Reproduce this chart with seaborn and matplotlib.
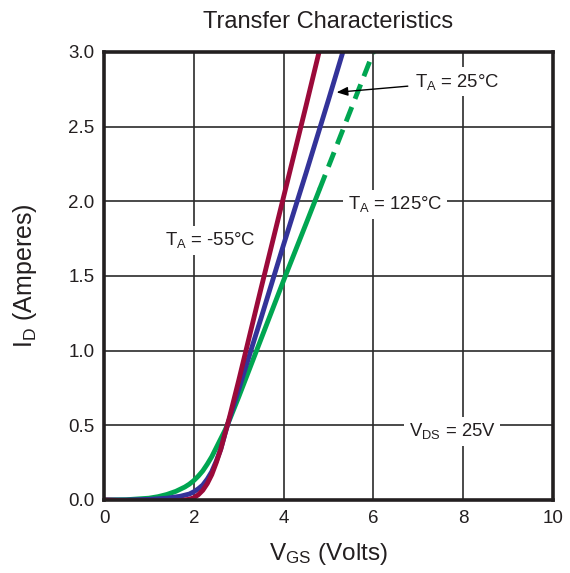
import matplotlib
matplotlib.use("Agg")
import matplotlib.pyplot as plt
import seaborn as sns
import pandas as pd

# ---- data ----
v_m55 = [0, 0.5, 1.0, 1.4, 1.7, 1.9, 2.0, 2.1, 2.2, 2.3, 2.4, 2.5, 2.6, 2.7, 2.8, 3.0, 3.5, 4.0, 4.5, 4.79]
i_m55 = [0, -0.005, -0.008, -0.008, -0.004, 0.005, 0.015, 0.035, 0.065, 0.11, 0.17, 0.25, 0.34, 0.45, 0.56, 0.8, 1.42, 2.03, 2.64, 3.0]

v_25 = [0, 0.5, 1.0, 1.4, 1.7, 1.9, 2.0, 2.1, 2.2, 2.3, 2.4, 2.5, 2.6, 2.7, 2.8, 3.0, 3.5, 4.0, 4.5, 5.0, 5.32]
i_25 = [0, 0, 0.004, 0.012, 0.025, 0.04, 0.055, 0.075, 0.1, 0.14, 0.19, 0.26, 0.34, 0.45, 0.55, 0.74, 1.22, 1.71, 2.19, 2.68, 3.0]

v_125 = [0, 0.5, 1.0, 1.2, 1.4, 1.6, 1.8, 1.9, 2.0, 2.1, 2.2, 2.3, 2.4, 2.5, 2.6, 2.7, 2.8, 3.0, 3.5, 4.0, 4.5, 4.8]
i_125 = [0, 0.002, 0.012, 0.022, 0.037, 0.058, 0.087, 0.106, 0.13, 0.16, 0.195, 0.24, 0.29, 0.35, 0.41, 0.47, 0.54, 0.69, 1.08, 1.47, 1.85, 2.08]
v_125_ext = [4.8, 6.0]
i_125_ext = [2.08, 3.0]

x_ticks = [0, 2, 4, 6, 8, 10]
y_ticks = [0.0, 0.5, 1.0, 1.5, 2.0, 2.5, 3.0]

RED = "#9B0A3A"
BLUE = "#333399"
GREEN = "#00A651"
TXT = "#231F20"

sns.set_theme(style="white")
plt.rcParams["font.family"] = ["Liberation Sans", "DejaVu Sans"]
plt.rcParams["mathtext.default"] = "regular"
plt.rcParams["text.color"] = TXT

fig = plt.figure(figsize=(5.70, 5.73), dpi=100)
ax = fig.add_axes([104 / 570, 1 - 500 / 573, 449 / 570, 448 / 573])

df_m55 = pd.DataFrame({"V": v_m55, "I": i_m55})
df_25 = pd.DataFrame({"V": v_25, "I": i_25})
df_125 = pd.DataFrame({"V": v_125, "I": i_125})
df_125e = pd.DataFrame({"V": v_125_ext, "I": i_125_ext})

lw = 3.5
sns.lineplot(data=df_125, x="V", y="I", ax=ax, color=GREEN, lw=lw, sort=False,
             solid_capstyle="round", solid_joinstyle="round", zorder=3)
sns.lineplot(data=df_125e, x="V", y="I", ax=ax, color=GREEN, lw=lw, sort=False,
             zorder=3).lines[-1].set_dashes([3.2, 1.8])
sns.lineplot(data=df_25, x="V", y="I", ax=ax, color=BLUE, lw=lw, sort=False,
             solid_capstyle="round", solid_joinstyle="round", zorder=4)
sns.lineplot(data=df_m55, x="V", y="I", ax=ax, color=RED, lw=lw, sort=False,
             solid_capstyle="round", solid_joinstyle="round", zorder=5)

ax.set_xlim(0, 10)
ax.set_ylim(0, 3.0)
ax.set_xticks(x_ticks)
ax.set_yticks(y_ticks)
ax.set_xticklabels([str(t) for t in x_ticks])
ax.set_yticklabels([f"{t:.1f}" for t in y_ticks])
ax.grid(True, color="#2b2b2b", lw=1.2, zorder=0)
ax.set_axisbelow(True)
for s in ax.spines.values():
    s.set_visible(True)
    s.set_color("#231F20")
    s.set_linewidth(2.6)
    s.set_zorder(7)
ax.tick_params(length=0, labelsize=13.5, colors=TXT, pad=7)

ax.set_xlabel("V$_{GS}$ (Volts)", fontsize=17.5, color=TXT, labelpad=10)
ax.set_ylabel("I$_{D}$ (Amperes)", fontsize=18, color=TXT, labelpad=21)
ax.set_title("Transfer Characteristics", fontsize=17, color=TXT, pad=17)

box = dict(boxstyle="square,pad=0.25", fc="white", ec="none")
fs = 13.3
ax.text(2.36, 1.74, "T$_{A}$ = -55°C", fontsize=fs, ha="center", va="center",
        bbox=box, zorder=6)
ax.text(6.48, 1.98, "T$_{A}$ = 125°C", fontsize=fs, ha="center", va="center",
        bbox=box, zorder=6)
ax.text(7.75, 0.46, "V$_{DS}$ = 25V", fontsize=fs, ha="center", va="center",
        bbox=box, zorder=6)
ax.annotate("T$_{A}$ = 25°C", xy=(5.18, 2.73), xytext=(7.87, 2.80),
            fontsize=fs, ha="center", va="center", bbox=box, zorder=6,
            arrowprops=dict(arrowstyle="-|>,head_length=0.5,head_width=0.2",
                            color="black", lw=1.0, shrinkA=2, shrinkB=0))

fig.savefig("out.png", dpi=100)
